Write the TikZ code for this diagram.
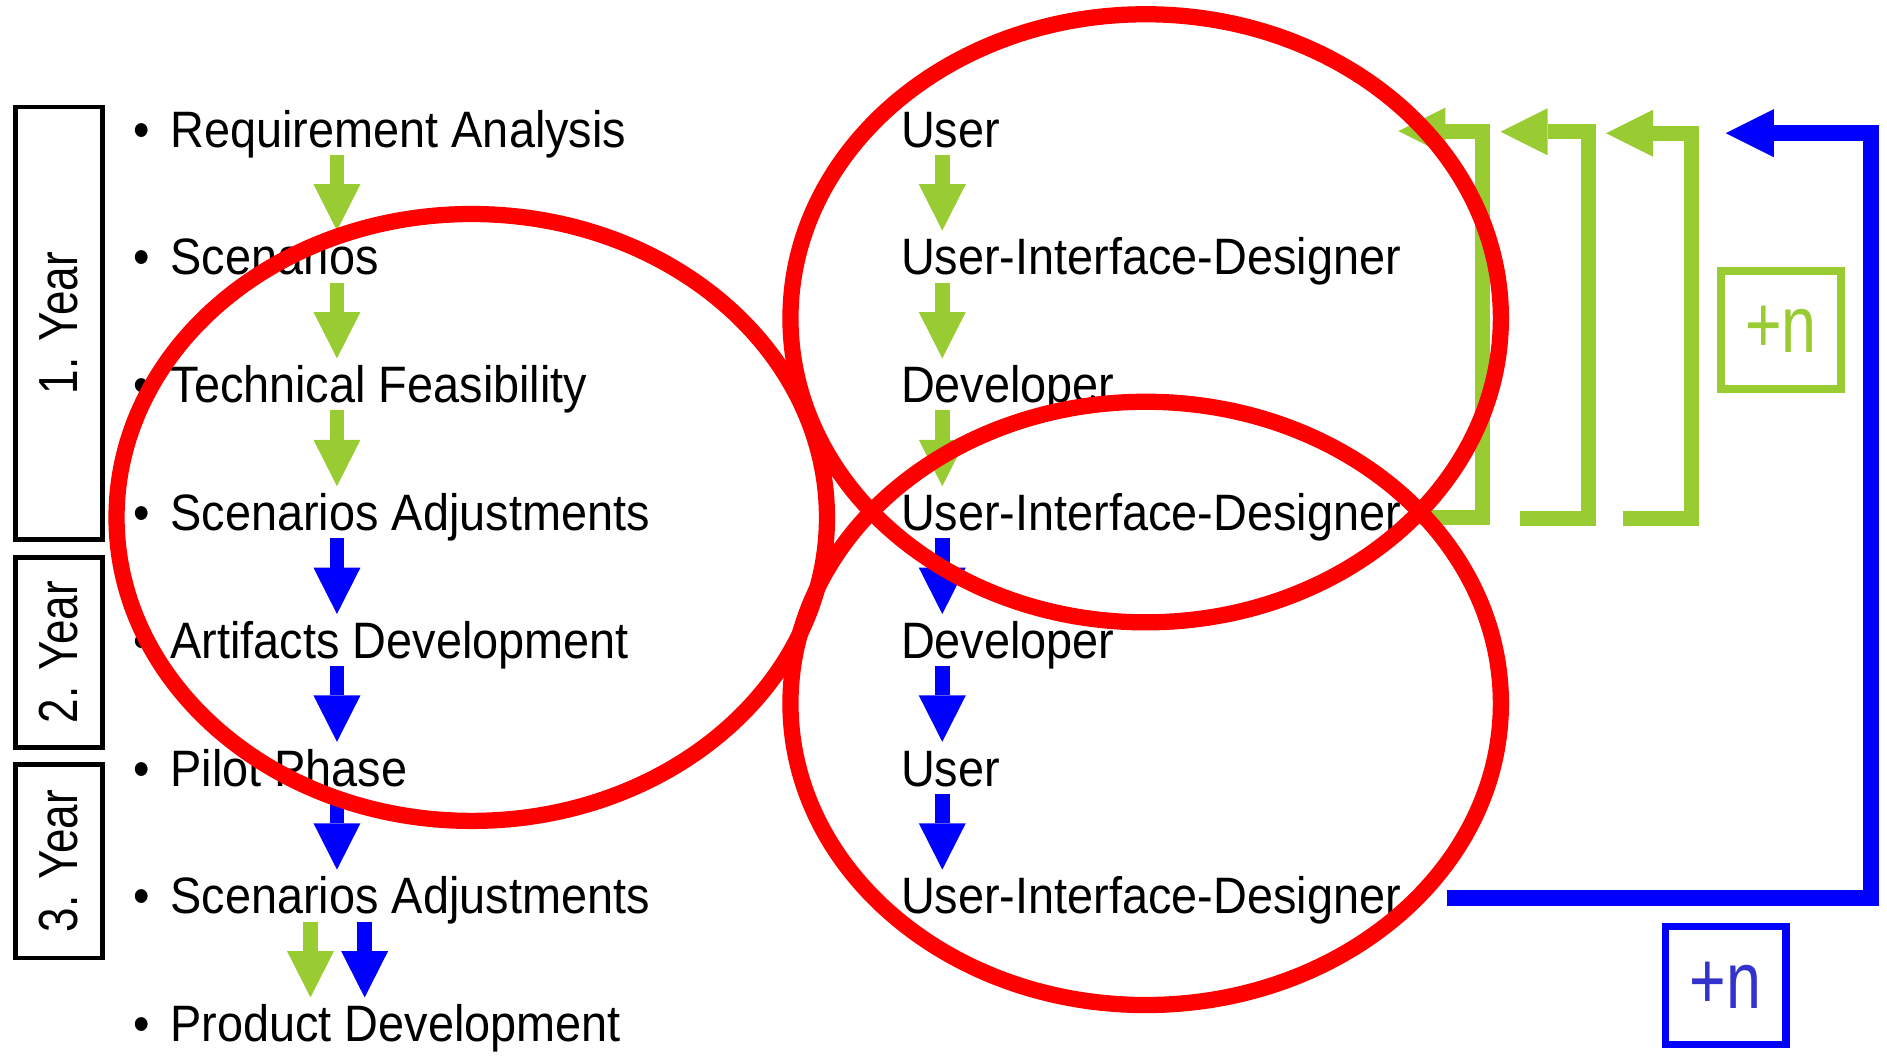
\documentclass[tikz,border=0pt]{standalone}
\usepackage{fontspec}
\setmainfont{Liberation Sans}
\newfontfamily\itemfam{Liberation Sans}[FakeStretch=0.915]
\newfontfamily\yearfam{Liberation Sans}[FakeStretch=0.8]
\newfontfamily\plusfam{Liberation Sans}[FakeStretch=0.78]
\usetikzlibrary{arrows.meta}
\definecolor{leafgreen}{RGB}{153,204,51}
\definecolor{flowblue}{RGB}{0,0,255}
\definecolor{plusblue}{RGB}{51,51,204}
\definecolor{ringred}{RGB}{255,0,0}
\begin{document}
\begin{tikzpicture}[x=0.01cm, y=-0.01cm,
	txt/.style={inner sep=0pt, text height=0.305cm, text depth=0pt, font=\itemfam\fontsize{12.1pt}{14pt}\selectfont},
	item/.style={txt, anchor=west},
	bulleted/.style={item, label={[txt, xshift=-0.16cm]left:\textbullet}},
	garrow/.style={leafgreen, line width=0.12cm, -{Triangle[width=0.39cm, length=0.385cm, line width=0pt]}, shorten <=0.056cm, shorten >=0.056cm},
	barrow/.style={garrow, flowblue},
	gloop/.style={leafgreen, line width=0.125cm, line join=miter, -{Triangle[width=0.39cm, length=0.39cm, line width=0pt]}},
	bloop/.style={flowblue, line width=0.133cm, line join=miter, -{Triangle[width=0.40cm, length=0.40cm, line width=0pt]}},
	yearbox/.style={draw, line width=0.04cm, rotate=90, inner sep=0pt, minimum height=0.72cm, font=\yearfam\fontsize{13pt}{13pt}\selectfont},
	nbox/.style={draw, line width=0.064cm, inner sep=0pt, minimum width=1cm, minimum height=0.98cm, font=\plusfam\fontsize{19pt}{19pt}\selectfont},
	ringline/.style={draw=ringred, line width=0.135cm}]
		\useasboundingbox (0,0) rectangle (1568,877);
		% year boxes
		\node[yearbox, minimum width=3.59cm] (y1) at (49,268.5) {1. Year};
		\node[yearbox, minimum width=1.58cm] (y2) at (49,542) {2. Year};
		\node[yearbox, minimum width=1.61cm] (y3) at (49,715.5) {3. Year};
		% phases
		\node[bulleted] (req) at (141,107) {Requirement Analysis};
		\node[bulleted] (scen) at (141,213.2) {Scenarios};
		\node[bulleted] (tech) at (141,319.4) {Technical Feasibility};
		\node[bulleted] (adj) at (141,425.6) {Scenarios Adjustments};
		\node[bulleted] (art) at (141,531.8) {Artifacts Development};
		\node[bulleted] (pilot) at (141,638) {Pilot Phase};
		\node[bulleted] (adjb) at (141,744.2) {Scenarios Adjustments};
		\node[bulleted] (prod) at (141,850.4) {Product Development};
		% roles
		\node[item] (user) at (748,107) {User};
		\node[item] (uid) at (748,213.2) {User-Interface-Designer};
		\node[item] (dev) at (748,319.4) {Developer};
		\node[item] (uidb) at (748,425.6) {User-Interface-Designer};
		\node[item] (devb) at (748,531.8) {Developer};
		\node[item] (userb) at (748,638) {User};
		\node[item] (uidc) at (748,744.2) {User-Interface-Designer};
		\coordinate (lx) at (280,0);
		\coordinate (mx) at (783,0);
		\coordinate (gx) at (258,0);
		\coordinate (bx) at (303,0);
		\draw[garrow] (req.south -| lx) -- (scen.north -| lx);
		\draw[garrow] (scen.south -| lx) -- (tech.north -| lx);
		\draw[garrow] (tech.south -| lx) -- (adj.north -| lx);
		\draw[barrow] (adj.south -| lx) -- (art.north -| lx);
		\draw[barrow] (art.south -| lx) -- (pilot.north -| lx);
		\draw[barrow] (pilot.south -| lx) -- (adjb.north -| lx);
		\draw[garrow] (adjb.south -| gx) -- (prod.north -| gx);
		\draw[barrow] (adjb.south -| bx) -- (prod.north -| bx);
		\draw[garrow] (user.south -| mx) -- (uid.north -| mx);
		\draw[garrow] (uid.south -| mx) -- (dev.north -| mx);
		\draw[garrow] (dev.south -| mx) -- (uidb.north -| mx);
		\draw[barrow] (uidb.south -| mx) -- (devb.north -| mx);
		\draw[barrow] (devb.south -| mx) -- (userb.north -| mx);
		\draw[barrow] (userb.south -| mx) -- (uidc.north -| mx);
		% iterations
		\coordinate (g1) at (1180,430);
		\coordinate (t1) at (1162,109);
		\coordinate (g2) at (1263,431);
		\coordinate (t2) at (1247,109.5);
		\coordinate (g3) at (1349,431);
		\coordinate (t3) at (1334.6,110.7);
		\draw[gloop] (g1) -- ++(52,0) |- (t1);
		\draw[gloop] (g2) -- ++(57,0) |- (t2);
		\draw[gloop] (g3) -- ++(56.5,0) |- (t3);
		\node[nbox, leafgreen] (gn) at (1480,274) {+n};
		\coordinate (b0) at (1202,746);
		\coordinate (bt) at (1434,110.7);
		\draw[bloop] (b0) -- ++(353,0) |- (bt);
		\node[nbox, draw=flowblue, text=plusblue] (bn) at (1434,819) {+n};
		% groups
		\draw[ringline] (392,430) ellipse [x radius=2.95cm, y radius=2.52cm];
		\draw[ringline] (952,264.5) ellipse [x radius=2.95cm, y radius=2.525cm];
		\draw[ringline] (952,584.5) ellipse [x radius=2.95cm, y radius=2.505cm];
\end{tikzpicture}
\end{document}
